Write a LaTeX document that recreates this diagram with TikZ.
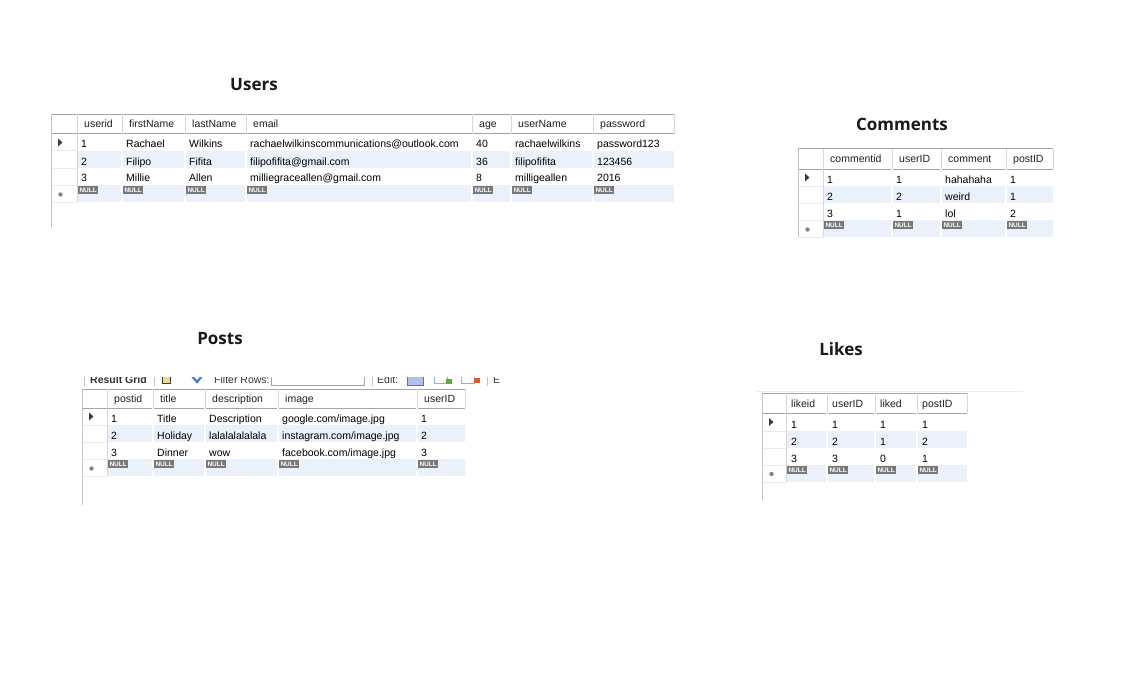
\documentclass[tikz,border=0pt]{standalone}
\usepackage{fontspec}
\setmainfont{Liberation Sans}
\newfontfamily\titlefont{Open Sans}
\definecolor{band}{RGB}{234,241,251}
\definecolor{nullgray}{RGB}{120,120,120}
\definecolor{topgray}{RGB}{165,165,165}
\definecolor{sepgray}{RGB}{215,215,215}
\definecolor{rowgray}{RGB}{232,232,232}
\definecolor{bordergray}{RGB}{195,195,195}
\definecolor{markgray}{RGB}{60,60,60}
\definecolor{dotgray}{RGB}{130,130,130}
\definecolor{iconblue}{RGB}{70,120,200}
\definecolor{iconyellow}{RGB}{235,190,60}
\definecolor{icongreen}{RGB}{90,170,60}
\definecolor{iconred}{RGB}{215,90,50}

\begin{document}
\begin{tikzpicture}
  [x=1pt,y=-1pt,
   head/.style={anchor=base west,inner sep=0,text=black!88,font=\fontsize{10.5}{12}\selectfont},
   cell/.style={anchor=base west,inner sep=0,text=black,font=\fontsize{10.5}{12}\selectfont},
   tool/.style={anchor=base west,inner sep=0,text=black!80,font=\fontsize{10.5}{12}\selectfont},
   nullbox/.style={anchor=north west,fill=nullgray,text=white,inner sep=0,
     minimum width=20,minimum height=8,font=\fontsize{6.5}{7}\selectfont\bfseries},
   title/.style={inner sep=0,text=black!90,font=\titlefont\bfseries\fontsize{17}{20}\selectfont},
   topline/.style={draw=topgray,line width=1},
   headline/.style={draw=topgray,line width=1},
   headsep/.style={draw=sepgray,line width=1},
   rowsep/.style={draw=white,line width=1.5},
   rowline/.style={draw=rowgray,line width=1},
   border/.style={draw=bordergray,line width=1},
   marker/.style={fill=markgray},
   dot/.style={fill=dotgray}]
  \useasboundingbox[fill=white] (0,0) rectangle (1143,698);

  % Users
  \node[title] (users) at (254,85) {Users};
  \fill[band] (77,151) rectangle (674,168);
  \fill[band] (77,185) rectangle (674,202);
  \draw[topline] (51,114.5) -- (674,114.5);
  \draw[headline] (51,134) -- (674,134);
  \foreach \x in {122,185,246,472,511,593,674}
    \draw[headsep] (\x,114.5) -- (\x,134);
  \foreach \x in {122,185,246,472,511,593}
    \draw[rowsep] (\x,134) -- (\x,202);
  \draw[headsep] (77,114.5) -- (77,202);
  \foreach \y in {151,168,185,202}
    \draw[rowline] (51,\y) -- (77,\y);
  \draw[border] (51,114.5) -- (51,227);
  \fill[marker] (58,138.5) -- (58,146.5) -- (62.5,142.5) -- cycle;
  \fill[dot] (60.5,194.5) circle (2.2pt);
  \foreach \x/\h/\a/\b/\c [count=\i] in {77/userid/1/2/3,
      122/firstName/Rachael/Filipo/Millie, 185/lastName/Wilkins/Fifita/Allen,
      246/email/{rachaelwilkinscommunications@outlook.com}/{filipofifita@gmail.com}/{milliegraceallen@gmail.com},
      472/age/40/36/8, 511/userName/rachaelwilkins/filipofifita/milligeallen,
      593/password/password123/123456/2016}{
    \node[head] (users-h\i) at (\x+7,128) {\h};
    \node[cell] (users-a\i) at (\x+4,148) {\a};
    \node[cell] (users-b\i) at (\x+4,165) {\b};
    \node[cell] (users-c\i) at (\x+4,182) {\c};
    \node[nullbox] (users-n\i) at (\x+1,186) {NULL};
  }

  % Comments
  \node[title] (comments) at (902,124) {Comments};
  \fill[band] (823,186) rectangle (1053,203);
  \fill[band] (823,220) rectangle (1053,237);
  \draw[topline] (798,149) -- (1053,149);
  \draw[headline] (798,169) -- (1053,169);
  \foreach \x in {892,941,1006,1053}
    \draw[headsep] (\x,149) -- (\x,169);
  \foreach \x in {892,941,1006}
    \draw[rowsep] (\x,169) -- (\x,237);
  \draw[headsep] (823,149) -- (823,237);
  \foreach \y in {186,203,220,237}
    \draw[rowline] (798,\y) -- (823,\y);
  \draw[border] (798,149) -- (798,237);
  \fill[marker] (805,173.5) -- (805,181.5) -- (809.5,177.5) -- cycle;
  \fill[dot] (807.5,229.5) circle (2.2pt);
  \foreach \x/\h/\a/\b/\c [count=\i] in {823/commentid/1/2/3,
      892/userID/1/2/1, 941/comment/hahahaha/weird/lol, 1006/postID/1/1/2}{
    \node[head] (comments-h\i) at (\x+7,163) {\h};
    \node[cell] (comments-a\i) at (\x+4,183) {\a};
    \node[cell] (comments-b\i) at (\x+4,200) {\b};
    \node[cell] (comments-c\i) at (\x+4,217) {\c};
    \node[nullbox] (comments-n\i) at (\x+1,221) {NULL};
  }

  % Posts
  \node[title] (posts) at (220,339) {Posts};
  \begin{scope}
    \clip (80,377.5) rectangle (502,388);
    \draw[border] (84,370) -- (84,386);
    \node[tool] (posts-grid) at (90,383) {\bfseries Result Grid};
    \draw[border] (154,370) -- (154,386);
    \draw[draw=markgray,fill=iconyellow!60] (162,374) rectangle (170,383);
    \draw[draw=iconblue,line width=2.2] (192,376) -- (197,382) -- (202,376);
    \node[tool] (posts-filter) at (214,383) {Filter Rows:};
    \draw[draw=topgray] (271,368) rectangle (364,385);
    \draw[border] (372,370) -- (372,386);
    \node[tool] (posts-edit) at (377,383) {Edit:};
    \draw[draw=iconblue,fill=iconblue!45,line width=1] (407,373) rectangle (423,385);
    \draw[draw=iconblue!60,fill=white] (434,375) rectangle (447,383);
    \fill[icongreen] (446,379) rectangle (452,384);
    \draw[draw=iconblue!60,fill=white] (461,375) rectangle (474,383);
    \fill[iconred] (474,378) rectangle (480,383);
    \draw[border] (487,370) -- (487,386);
    \node[tool] (posts-more) at (493,383) {E};
  \end{scope}
  \fill[band] (107,425) rectangle (465,442);
  \fill[band] (107,459) rectangle (465,476);
  \draw[topline] (82,389) -- (465,389);
  \draw[headline] (82,408) -- (465,408);
  \foreach \x in {153,205,278,417,465}
    \draw[headsep] (\x,389) -- (\x,408);
  \foreach \x in {153,205,278,417}
    \draw[rowsep] (\x,408) -- (\x,476);
  \draw[headsep] (107,389) -- (107,476);
  \foreach \y in {425,442,459,476}
    \draw[rowline] (82,\y) -- (107,\y);
  \draw[border] (82,389) -- (82,505);
  \fill[marker] (89,412.5) -- (89,420.5) -- (93.5,416.5) -- cycle;
  \fill[dot] (91.5,468.5) circle (2.2pt);
  \foreach \x/\h/\a/\b/\c [count=\i] in {107/postid/1/2/3,
      153/title/Title/Holiday/Dinner, 205/description/Description/lalalalalalala/wow,
      278/image/{google.com/image.jpg}/{instagram.com/image.jpg}/{facebook.com/image.jpg},
      417/userID/1/2/3}{
    \node[head] (posts-h\i) at (\x+7,402.5) {\h};
    \node[cell] (posts-a\i) at (\x+4,422) {\a};
    \node[cell] (posts-b\i) at (\x+4,439) {\b};
    \node[cell] (posts-c\i) at (\x+4,456) {\c};
    \node[nullbox] (posts-n\i) at (\x+1,460) {NULL};
  }

  % Likes
  \node[title] (likes) at (841,349) {Likes};
  \draw[draw=black!7,line width=1] (757,391.5) -- (1023,391.5);
  \fill[band] (786,431) rectangle (967,448);
  \fill[band] (786,465) rectangle (967,482);
  \draw[topline] (762,393) -- (967,393);
  \draw[headline] (762,413) -- (967,413);
  \foreach \x in {827,875,917,967}
    \draw[headsep] (\x,393) -- (\x,413);
  \foreach \x in {827,875,917}
    \draw[rowsep] (\x,413) -- (\x,482);
  \draw[headsep] (786,393) -- (786,482);
  \foreach \y in {431,448,465,482}
    \draw[rowline] (762,\y) -- (786,\y);
  \draw[border] (762,393) -- (762,500);
  \fill[marker] (769,418) -- (769,426) -- (773.5,422) -- cycle;
  \fill[dot] (771.5,474) circle (2.2pt);
  \foreach \x/\h/\a/\b/\c [count=\i] in {786/likeid/1/2/3,
      827/userID/1/2/3, 875/liked/1/1/0, 917/postID/1/2/1}{
    \node[head] (likes-h\i) at (\x+5,407) {\h};
    \node[cell] (likes-a\i) at (\x+5,428) {\a};
    \node[cell] (likes-b\i) at (\x+5,445) {\b};
    \node[cell] (likes-c\i) at (\x+5,462) {\c};
    \node[nullbox] (likes-n\i) at (\x+1,466) {NULL};
  }
\end{tikzpicture}
\end{document}
